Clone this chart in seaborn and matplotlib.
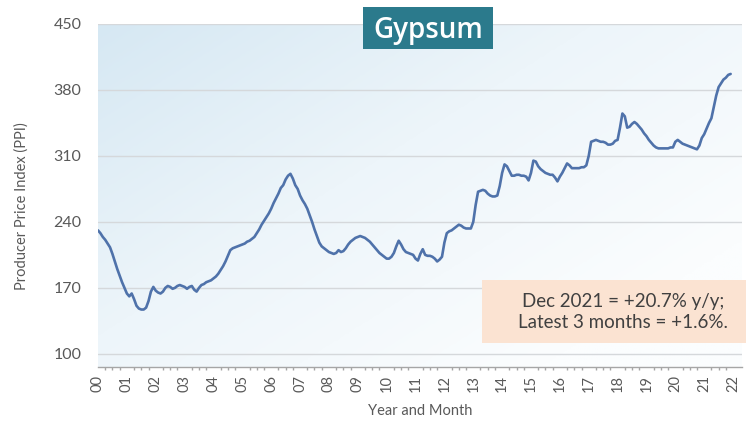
import numpy as np
import pandas as pd
import matplotlib
matplotlib.use("Agg")
import matplotlib.pyplot as plt
from matplotlib.patches import Rectangle
from matplotlib.colors import LinearSegmentedColormap
import seaborn as sns

# Monthly producer price index for gypsum, Jan 2000 - Dec 2021
years = list(range(2000, 2022))
ppi_by_year = {
    2000: [231, 228, 224, 221, 217, 213, 206, 198, 190, 183, 176, 170],
    2001: [164, 161, 164, 158, 151, 148, 147, 147, 149, 156, 166, 171],
    2002: [167, 165, 164, 166, 170, 172, 171, 169, 170, 172, 173, 172],
    2003: [171, 169, 171, 172, 168, 166, 170, 173, 174, 176, 177, 178],
    2004: [180, 182, 185, 189, 193, 198, 204, 210, 212, 213, 214, 215],
    2005: [216, 217, 219, 220, 222, 224, 228, 232, 237, 241, 245, 249],
    2006: [254, 260, 265, 270, 276, 279, 285, 289, 291, 286, 279, 275],
    2007: [268, 263, 259, 254, 247, 240, 232, 225, 218, 214, 212, 210],
    2008: [208, 207, 206, 207, 210, 208, 209, 212, 216, 219, 221, 223],
    2009: [224, 225, 224, 223, 221, 219, 216, 213, 210, 207, 205, 203],
    2010: [201, 201, 203, 207, 214, 220, 216, 211, 208, 207, 206, 205],
    2011: [201, 199, 206, 211, 205, 204, 204, 203, 201, 198, 200, 203],
    2012: [218, 228, 230, 231, 233, 235, 237, 236, 234, 233, 233, 233],
    2013: [240, 258, 272, 273, 274, 273, 270, 268, 267, 267, 268, 278],
    2014: [292, 301, 299, 294, 289, 289, 290, 290, 289, 289, 288, 284],
    2015: [292, 305, 304, 299, 296, 294, 292, 291, 290, 290, 287, 283],
    2016: [288, 292, 297, 302, 300, 297, 297, 297, 297, 298, 298, 300],
    2017: [310, 325, 326, 327, 326, 325, 325, 324, 322, 322, 323, 326],
    2018: [327, 340, 355, 352, 340, 341, 344, 346, 344, 341, 338, 334],
    2019: [331, 327, 324, 321, 319, 318, 318, 318, 318, 318, 319, 319],
    2020: [325, 327, 325, 323, 322, 321, 320, 319, 318, 317, 321, 329],
    2021: [333, 339, 345, 350, 362, 374, 383, 387, 391, 393, 396, 397],
}
y_ticks = [100, 170, 240, 310, 380, 450]
x_tick_years = list(range(2000, 2023))
x_tick_labels = [f"{y % 100:02d}" for y in x_tick_years]
title_text = "Gypsum"
note_text = "Dec 2021 = +20.7% y/y;\nLatest 3 months = +1.6%."

rows = []
for y in years:
    for m, v in enumerate(ppi_by_year[y]):
        rows.append({"t": y + m / 12.0, "ppi": v})
df = pd.DataFrame(rows)

sns.set_theme(style="white")
plt.rcParams["font.family"] = ["Lato", "DejaVu Sans"]

fig = plt.figure(figsize=(7.48, 4.24), dpi=100)
ax = fig.add_axes([98 / 748, 1 - 367 / 424, (742 - 98) / 748, (367 - 24) / 424])

x0, x1 = 2000.0, 2022.31
y0, y1 = 86, 450

# soft blue-to-white background of the plot area
gx, gy = np.meshgrid(np.linspace(0, 1, 300), np.linspace(0, 1, 200))
grad = np.clip(0.65 * gx + 0.55 * (1 - gy), 0, 1)
cmap = LinearSegmentedColormap.from_list("bg", ["#d6e8f3", "#edf5fa", "#fbfdfe"])
ax.imshow(grad, extent=[x0, x1, y0, y1], origin="lower", aspect="auto",
          cmap=cmap, zorder=0, interpolation="bilinear")

for yt in y_ticks:
    ax.axhline(yt, color="#d5d8db", lw=1.0, zorder=1)

sns.lineplot(data=df, x="t", y="ppi", ax=ax, color="#4f72aa", lw=1.9, zorder=3)

ax.set_xlim(x0, x1)
ax.set_ylim(y0, y1)
ax.set_yticks(y_ticks)
ax.set_yticklabels([str(v) for v in y_ticks], color="#595959", fontsize=11.5)
ax.set_xticks(x_tick_years)
ax.set_xticklabels(x_tick_labels, rotation=90, color="#595959", fontsize=10.5)
ax.set_xticks(np.arange(2000, 2022.01, 0.25), minor=True)
ax.tick_params(axis="x", which="major", length=4, color="#a6a6a6", pad=2)
ax.tick_params(axis="x", which="minor", length=2, color="#a6a6a6", bottom=True)
ax.tick_params(axis="y", length=0, pad=12)

for s in ["top", "right", "left"]:
    ax.spines[s].set_visible(False)
ax.spines["bottom"].set_color("#a6a6a6")
ax.spines["bottom"].set_linewidth(1.0)

ax.set_xlabel("Year and Month", color="#595959", fontsize=10.5, labelpad=8)
ax.set_ylabel("")
fig.text(22 / 748, 1 - 206 / 424, "Producer Price Index (PPI)", color="#595959",
         fontsize=10.5, rotation=90, ha="center", va="center")

# title badge
fig.patches.append(Rectangle((363 / 748, 1 - 49 / 424), (493 - 363) / 748, 42 / 424,
                             transform=fig.transFigure, facecolor="#2b7a8c",
                             edgecolor="none", zorder=5))
fig.text(428 / 748, 1 - 38 / 424, title_text, color="white", fontsize=20,
         family=["Open Sans", "DejaVu Sans"], fontweight="semibold",
         ha="center", va="baseline", zorder=6)

# note box
fig.patches.append(Rectangle((482 / 748, 1 - 343 / 424), (746 - 482) / 748, 63 / 424,
                             transform=fig.transFigure, facecolor="#fbe3d2",
                             edgecolor="none", zorder=5))
fig.text(623 / 748, 1 - 312 / 424, note_text, color="#404040", fontsize=13.5,
         ha="center", va="center", linespacing=1.3, zorder=6)

fig.savefig("out.png", dpi=100, facecolor="white")
